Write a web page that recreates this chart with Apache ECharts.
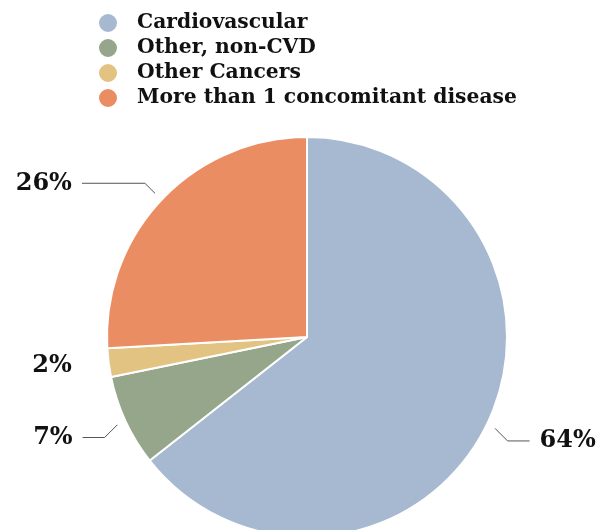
<!DOCTYPE html>
<html>
<head>
<meta charset="utf-8">
<script src="https://cdn.jsdelivr.net/npm/echarts@6/dist/echarts.min.js"></script>
<style>html,body{margin:0;padding:0;background:#fff;}#c{width:596px;height:530px;}</style>
</head>
<body>
<div id="c"></div>
<script>
const categories = ['Cardiovascular', 'Other, non-CVD', 'Other Cancers', 'More than 1 concomitant disease'];
const values = [64.4, 7.4, 2.3, 25.9];
const colors = ['#a6b9d0', '#95a68a', '#e3c381', '#ea8d62'];

const chart = echarts.init(document.getElementById('c'), null, {renderer: 'canvas'});
const serif = '"DejaVu Serif", serif';

// per-slice leader-line styling (horizontal run length, visibility)
const lineRun = [22, 22, 4, 63];
const lineShown = [true, true, false, true];

const pieData = categories.map((n, i) => ({name: n, value: values[i], itemStyle: {color: colors[i]}}));
const labelData = categories.map((n, i) => ({
  name: n, value: values[i],
  labelLine: {show: lineShown[i], length2: lineRun[i]}
}));

chart.setOption({
  animation: false,
  legend: {
    data: categories,
    orient: 'vertical',
    left: 92,
    top: 7,
    itemWidth: 48,
    itemHeight: 20,
    itemGap: 3,
    icon: 'circle',
    selectedMode: false,
    textStyle: {fontFamily: serif, fontWeight: 'bold', fontSize: 20.3, color: '#111', lineHeight: 20}
  },
  series: [
    {
      type: 'pie',
      radius: 200,
      center: [307, 337],
      startAngle: 90,
      clockwise: true,
      silent: true,
      label: {show: false},
      labelLine: {show: false},
      itemStyle: {borderColor: '#fff', borderWidth: 2},
      data: pieData
    },
    {
      type: 'pie',
      radius: 209,
      left: 0,
      top: 0,
      right: -60,
      bottom: 0,
      center: [307, 337],
      startAngle: 90,
      clockwise: true,
      silent: true,
      itemStyle: {color: 'rgba(255,255,255,0)', borderWidth: 0},
      label: {
        show: true,
        position: 'outside',
        alignTo: 'none',
        bleedMargin: 0,
        distanceToLabelLine: 10,
        formatter: p => Math.round(p.value) + '%',
        fontFamily: serif,
        fontWeight: 'bold',
        fontSize: 24,
        color: '#111'
      },
      labelLine: {show: true, length: 14, length2: 22, lineStyle: {color: '#555', width: 1}},
      labelLayout: function (params) {
        const pts = params.labelLinePoints;
        if (!pts || !lineShown[params.dataIndex]) return {};
        const p1 = pts[0], p2 = pts[1], p3 = pts[2];
        const dy = p2[1] >= p1[1] ? 1 : -1;
        const by = p1[1] + dy * Math.abs(p2[0] - p1[0]);
        return {
          y: by,
          labelLinePoints: [[p1[0], p1[1]], [p2[0], by], [p3[0], by]]
        };
      },
      data: labelData
    }
  ]
});
</script>
</body>
</html>
